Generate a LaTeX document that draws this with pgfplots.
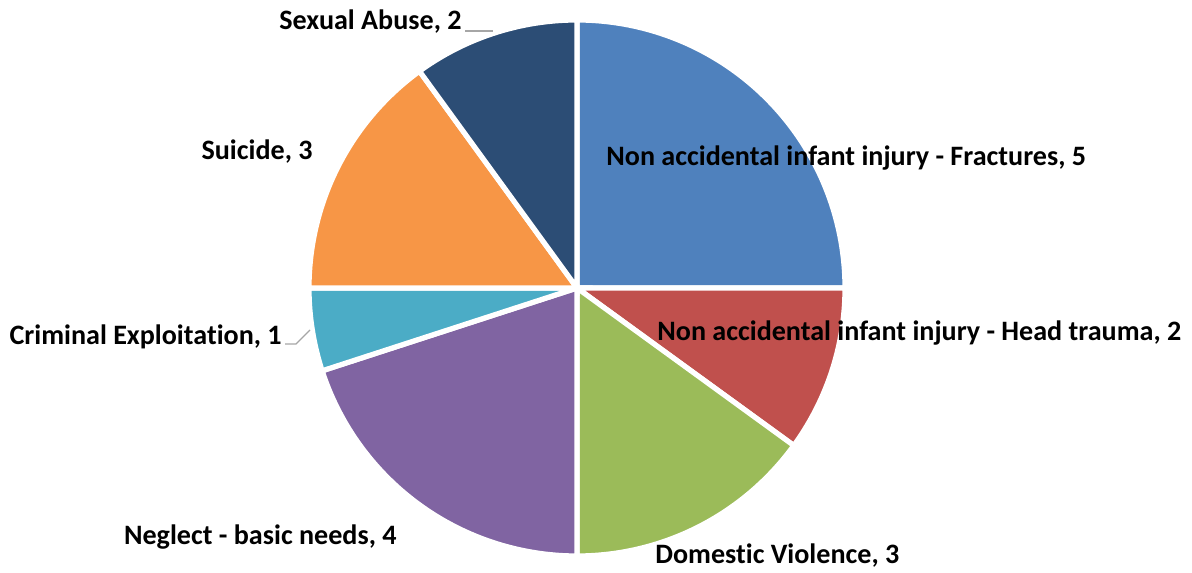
\documentclass[border=0pt]{standalone}
\usepackage{pgfplots}
\pgfplotsset{compat=1.18}
\usepackage{fontspec}
\setmainfont{Carlito}[BoldFont={Carlito Bold}, RawFeature={-liga}]
\definecolor{cA}{HTML}{4F81BD}
\definecolor{cB}{HTML}{C0504D}
\definecolor{cC}{HTML}{9BBB59}
\definecolor{cD}{HTML}{8064A2}
\definecolor{cE}{HTML}{4BACC6}
\definecolor{cF}{HTML}{F79646}
\definecolor{cG}{HTML}{2C4D75}
\tikzset{lbl/.style={font=\fontsize{14.05}{16}\selectfont\bfseries, text=black, inner sep=0pt}}
\begin{document}
\begin{tikzpicture}
\begin{axis}[
  width=596pt, height=286pt, scale only axis,
  xmin=0, xmax=1192, ymin=0, ymax=572,
  hide axis, clip=false,
]
\path (rel axis cs:0,0) rectangle (rel axis cs:1,1);
\def\curang{90}
\foreach \v/\c in {5/cA,2/cB,3/cC,4/cD,1/cE,3/cF,2/cG} {
  \pgfmathsetmacro{\nextang}{\curang-360*\v/20}
  \edef\temp{\noexpand\addplot[fill=\c, draw=white, line width=2.6pt, line join=miter, domain=\nextang:\curang, samples=90, variable=\noexpand\t] ({577+268*cos(\noexpand\t)},{284+268*sin(\noexpand\t)}) -- (axis cs:577,284) -- cycle;}
  \temp
  \xdef\curang{\nextang}
}
% leader lines
\draw[gray!70, line width=0.6pt] (axis cs:465,541) -- (axis cs:493,541);
\draw[gray!70, line width=0.6pt] (axis cs:285,228) -- (axis cs:296,228) -- (axis cs:310,242);
% labels
\node[lbl, anchor=east] at (axis cs:462,550) {Sexual Abuse, 2};
\node[lbl, anchor=east] at (axis cs:313,420) {Suicide, 3};
\node[lbl, anchor=west] at (axis cs:606,414) {Non accidental infant injury - Fractures, 5};
\node[lbl, anchor=east] at (axis cs:282,235) {Criminal Exploitation, 1};
\node[lbl, anchor=west] at (axis cs:657,239) {Non accidental infant injury - Head trauma, 2};
\node[lbl, anchor=west] at (axis cs:655,16) {Domestic Violence, 3};
\node[lbl, anchor=east] at (axis cs:397,35) {Neglect - basic needs, 4};
\end{axis}
\end{tikzpicture}
\end{document}
